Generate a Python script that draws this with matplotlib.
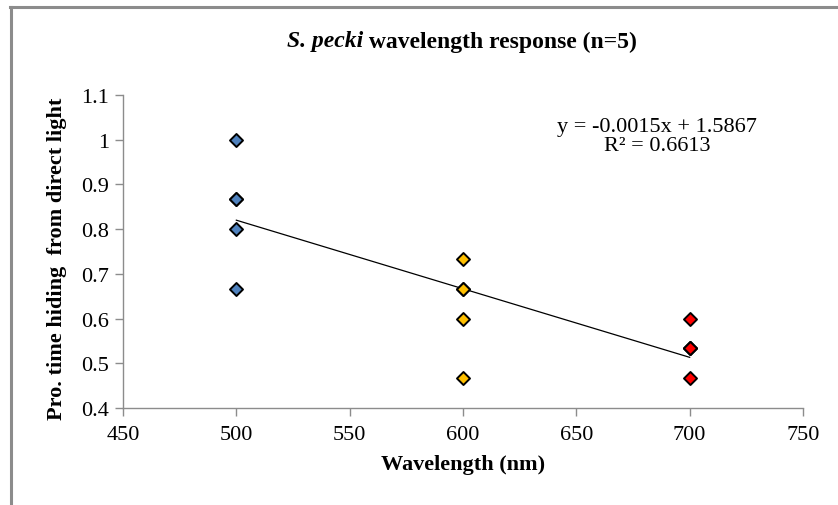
import numpy as np
import matplotlib.pyplot as plt
from matplotlib.lines import Line2D

# proportion of time hiding, per wavelength (n=5 each)
wl_500 = [500, 500, 500, 500, 500]
hide_500 = [1.0, 0.8667, 0.8667, 0.8, 0.6667]
wl_600 = [600, 600, 600, 600, 600]
hide_600 = [0.7333, 0.6667, 0.6667, 0.6, 0.4667]
wl_700 = [700, 700, 700, 700, 700]
hide_700 = [0.6, 0.5333, 0.5333, 0.5333, 0.4667]

x_ticks = [450, 500, 550, 600, 650, 700, 750]
y_ticks = [0.4, 0.5, 0.6, 0.7, 0.8, 0.9, 1.0, 1.1]
y_tick_labels = ['0.4', '0.5', '0.6', '0.7', '0.8', '0.9', '1', '1.1']

plt.rcParams['font.family'] = ['Liberation Serif', 'DejaVu Serif']

W, H = 838, 506
fig = plt.figure(figsize=(W / 100, H / 100), dpi=100)
ax = fig.add_axes([123 / W, 1 - 409 / H, 680 / W, 313 / H])

# chart area border (cropped on right and bottom)
fig.add_artist(Line2D([0.0135, 0.0135], [-0.1, 0.9833], transform=fig.transFigure,
                      color='#8c8c8c', lw=2.2))
fig.add_artist(Line2D([0.0125, 1.1], [0.9833, 0.9833], transform=fig.transFigure,
                      color='#8c8c8c', lw=2.2))

# linear trend over all points
all_x = np.array(wl_500 + wl_600 + wl_700)
all_y = np.array(hide_500 + hide_600 + hide_700)
slope, intercept = np.polyfit(all_x, all_y, 1)
fit_x = np.array([500, 700])
ax.plot(fit_x, slope * fit_x + intercept, color='black', lw=0.9, zorder=2)

mk = dict(marker='D', s=44, edgecolors='black', linewidths=1.4, zorder=3)
ax.scatter(wl_500, hide_500, c='#4f81bd', **mk)
ax.scatter(wl_600, hide_600, c='#ffc000', **mk)
ax.scatter(wl_700, hide_700, c='#ff0000', **mk)

ax.set_xlim(450, 750)
ax.set_ylim(0.4, 1.1)
ax.set_xticks(x_ticks)
ax.set_yticks(y_ticks)
ax.set_yticklabels(y_tick_labels)

for side in ['top', 'right']:
    ax.spines[side].set_visible(False)
for side in ['left', 'bottom']:
    ax.spines[side].set_color('#8c8c8c')
    ax.spines[side].set_linewidth(1.0)
ax.tick_params(axis='both', direction='out', length=6, width=1.0, color='#8c8c8c',
               labelsize=16)
ax.tick_params(axis='y', pad=4)
ax.tick_params(axis='x', pad=6)

ax.set_xlabel('Wavelength (nm)', fontsize=16, fontweight='bold')
ax.xaxis.set_label_coords(0.5, -0.179)
ax.xaxis.label.set_va('center')
ax.set_ylabel('Pro. time hiding  from direct light', fontsize=16, fontweight='bold')
ax.yaxis.set_label_coords(-0.097, 0.48)
ax.yaxis.label.set_va('center')

# title: italic species name followed by bold text, centred over the chart area
ty = 1 - 42 / H
t1 = fig.text(0, ty, 'S. pecki', fontsize=17, fontweight='bold', style='italic',
              ha='left', va='center')
t2 = fig.text(0, ty, ' wavelength response (n=5)', fontsize=17, fontweight='bold',
              ha='left', va='center')
r = fig.canvas.get_renderer()
w1 = t1.get_window_extent(r).width
w2 = t2.get_window_extent(r).width
x0 = 462 - (w1 + w2) / 2
t1.set_x(x0 / W)
t2.set_x((x0 + w1) / W)

ax.text((657 - 123) / 680, (409 - 137) / 313, 'y = -0.0015x + 1.5867\nR² = 0.6613',
        transform=ax.transAxes, ha='center', va='center', fontsize=16, linespacing=1.0)

fig.savefig('out.png', dpi=100)
